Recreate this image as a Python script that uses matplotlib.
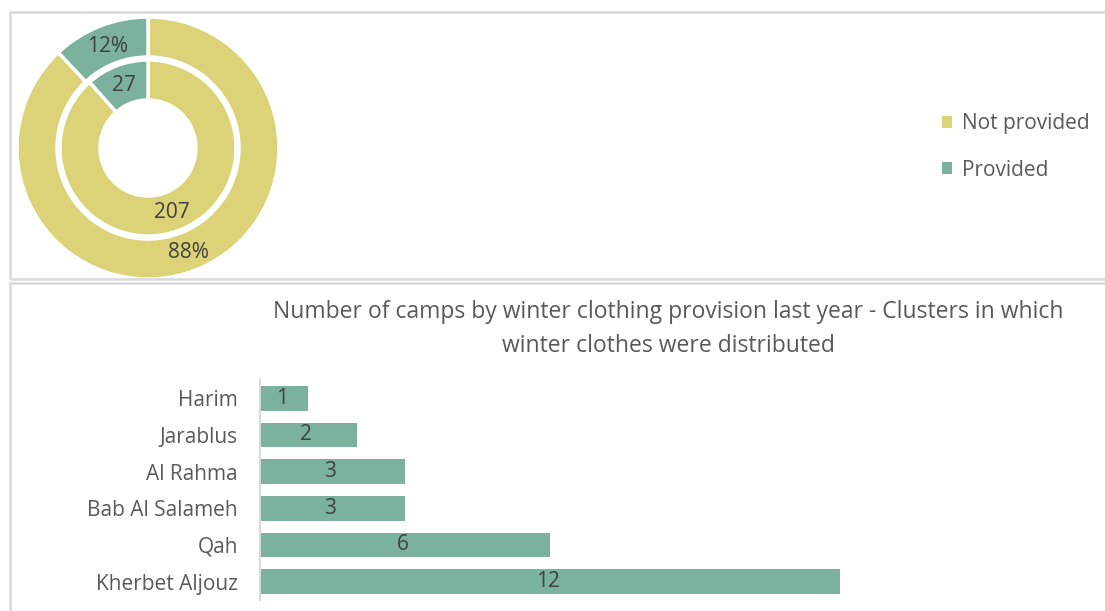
import numpy as np
import matplotlib.pyplot as plt
from matplotlib.patches import Rectangle, Patch

plt.rcParams['font.family'] = ['Open Sans', 'DejaVu Sans']

# camps by winter clothing provision
status = ['Not provided', 'Provided']
camp_counts = [207, 27]
camp_shares = [88, 12]

# clusters where winter clothes were distributed
clusters = ['Harim', 'Jarablus', 'Al Rahma', 'Bab Al Salameh', 'Qah', 'Kherbet Aljouz']
cluster_counts = [1, 2, 3, 3, 6, 12]

YELLOW = '#DCD278'
GREEN = '#7AB29E'
TXT = '#595959'
DARK = '#404040'
BORDER = '#D9D9D9'

W, H = 1105, 611
fig = plt.figure(figsize=(W / 100, H / 100), dpi=100)


def box(x0, y0, x1, y1):
    # pixel box (top-left origin) -> figure fraction
    return [x0 / W, 1 - y1 / H, (x1 - x0) / W, (y1 - y0) / H]


# panel frames
for (x0, y0, x1, y1) in [(10, 12, 1110, 279), (10, 283, 1110, 620)]:
    fig.patches.append(Rectangle((x0 / W, 1 - y1 / H), (x1 - x0) / W, (y1 - y0) / H,
                                 transform=fig.transFigure, fill=False,
                                 edgecolor=BORDER, linewidth=1.8))

# --- doughnut ---
cx, cy, R = 148, 148, 131
ax1 = fig.add_axes(box(cx - R, cy - R, cx + R, cy + R))
ring_w = 40 / R
inner_r = 88 / R
wp = dict(edgecolor='white', linewidth=2.5, width=ring_w)
outer, _ = ax1.pie(camp_shares, radius=1, colors=[YELLOW, GREEN], startangle=90,
                   counterclock=False, wedgeprops=wp)
inner, _ = ax1.pie(camp_counts, radius=inner_r, colors=[YELLOW, GREEN], startangle=90,
                   counterclock=False, wedgeprops=wp)
ax1.set_xlim(-1, 1)
ax1.set_ylim(-1, 1)


def label_ring(wedges, texts, r_mid):
    for w, t in zip(wedges, texts):
        ang = np.deg2rad((w.theta1 + w.theta2) / 2)
        ax1.text(r_mid * np.cos(ang), r_mid * np.sin(ang) - 0.01, t, ha='center',
                 va='center', fontsize=15, color=DARK)


label_ring(outer, [f'{v}%' for v in camp_shares], 1 - ring_w / 2)
label_ring(inner, [str(v) for v in camp_counts], inner_r - ring_w / 2)

handles = [Patch(facecolor=c, edgecolor='none') for c in [YELLOW, GREEN]]
fig.legend(handles, status, loc='center left', bbox_to_anchor=(923 / W, 1 - 147 / H),
           frameon=False, fontsize=15, labelcolor=TXT, handlelength=0.5,
           handleheight=0.5, handletextpad=0.45, labelspacing=1.2)

# --- clusters bar chart ---
ax2 = fig.add_axes(box(260, 380, 1090, 600))
ypos = np.arange(len(clusters))
bars = ax2.barh(ypos, cluster_counts, height=0.68, color=GREEN)
ax2.set_ylim(len(clusters) - 0.5, -0.5)
ax2.set_xlim(0, 830 / 48.3)
ax2.set_yticks(ypos, clusters)
ax2.set_xticks([])
ax2.tick_params(axis='y', length=0, pad=16, labelsize=15, labelcolor=TXT)
for s in ['top', 'right', 'bottom']:
    ax2.spines[s].set_visible(False)
ax2.spines['left'].set_color(BORDER)
ax2.spines['left'].set_linewidth(1.5)
ax2.bar_label(bars, labels=[str(v) for v in cluster_counts], label_type='center',
              fontsize=15, color=DARK, padding=-1.5)

fig.text(668 / W, 1 - 329 / H,
         'Number of camps by winter clothing provision last year - Clusters in which\n'
         'winter clothes were distributed',
         ha='center', va='center', fontsize=16.5, color=TXT, linespacing=1.55)

fig.savefig('out.png', dpi=100)
